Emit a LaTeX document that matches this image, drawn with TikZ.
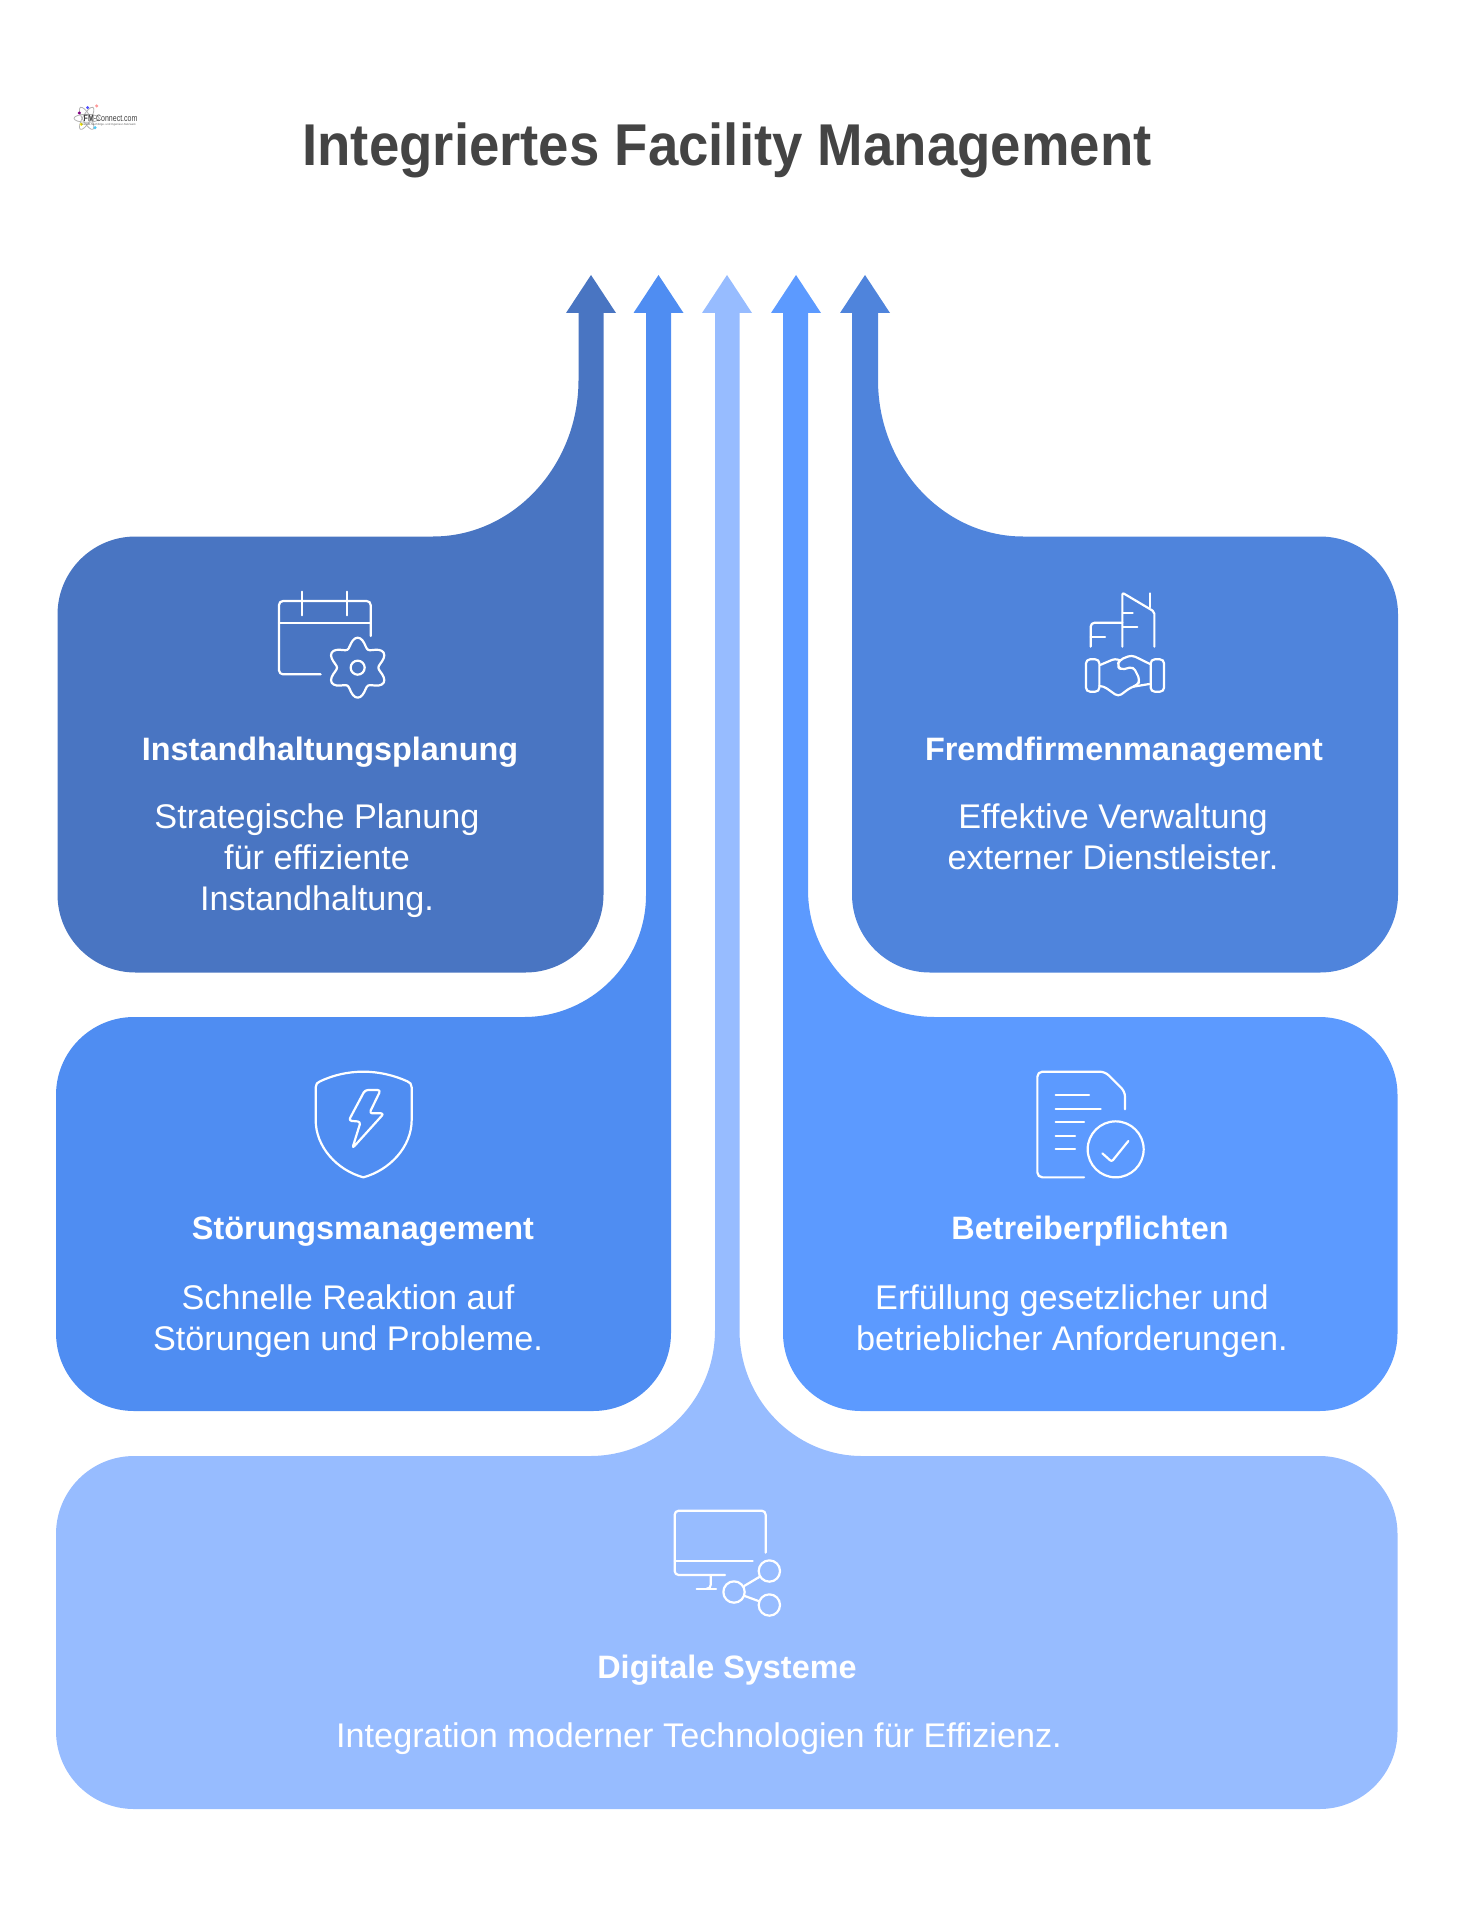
\documentclass[tikz,border=0pt]{standalone}
\usepackage{fontspec}
\setmainfont{Liberation Sans}
\usepackage{tikz}
\usetikzlibrary{calc}
\definecolor{planblue}{HTML}{4975C2}
\definecolor{stoerblue}{HTML}{4F8DF2}
\definecolor{digitalblue}{HTML}{97BCFF}
\definecolor{pflichtblue}{HTML}{5C9AFF}
\definecolor{fremdblue}{HTML}{4F84DC}
\definecolor{titlegray}{HTML}{444444}

\begin{document}
\begin{tikzpicture}[
		x=0.5pt, y=-0.5pt,
		card/.style={draw=none},
		headline/.style={text=white, font=\fontsize{16.2}{20}\selectfont\bfseries, inner sep=0pt},
		copyline/.style={text=white, font=\fontsize{17.1}{20.5}\selectfont, align=center, inner sep=0pt},
		icon/.style={draw=white, line width=1.1pt, line cap=round, line join=round},
		zoomed/.style={x=0.16667pt, y=-0.16667pt},
		]
		\useasboundingbox (0,0) rectangle (1456,1920);
		
		\node[text=titlegray, font=\fontsize{29.5}{34}\selectfont\bfseries\addfontfeature{FakeStretch=0.925}, inner sep=0pt] (title) at (727,150) {Integriertes Facility Management};
		
		% logo
		\begin{scope}[shift={(50,80)}, zoomed]
			\foreach \ang in {0,60,120}
				\draw[black!30, line width=0.4pt, rotate around={\ang:(110,115)}] (110,115) ellipse (38 and 12);
			\foreach \dx/\dy/\dcol in {88/99/violet,113/83/blue!70,140/78/red!40,94/133/yellow,135/143/cyan!70}
				\fill[\dcol] (\dx,\dy) circle (5);
			\node[inner sep=0pt, anchor=west, text=black!75, font=\fontsize{4.6}{5}\selectfont\addfontfeature{FakeStretch=0.76}] (logoname) at (100,115) {\textbf{FM}-Connect.com};
			\node[inner sep=0pt, anchor=west, text=black!60, font=\fontsize{1.42}{2}\selectfont] (logosub) at (92,133) {Die FM-Nachfolge- und Ingenieur-Netzwerk};
		\end{scope}
		
		% digitale systeme
		\fill[digitalblue, card] (727,275) -- (752,313) -- (739.5,313) -- (739.5,1330)
			.. controls (739.5,1400) and (795,1456) .. (862,1456) -- (1319.5,1456)
			arc[start angle=270, end angle=360, radius=78] -- (1397.5,1731)
			arc[start angle=0, end angle=90, radius=78] -- (134,1809)
			arc[start angle=90, end angle=180, radius=78] -- (56,1534)
			arc[start angle=180, end angle=270, radius=78] -- (590,1456)
			.. controls (659,1456) and (715,1400) .. (715,1330) -- (715,313) -- (702,313) -- cycle;
		
		% stoerungsmanagement
		\fill[stoerblue, card] (658.5,275) -- (683.5,313) -- (671,313) -- (671,1333)
			arc[start angle=0, end angle=90, radius=78] -- (134,1411)
			arc[start angle=90, end angle=180, radius=78] -- (56,1095)
			arc[start angle=180, end angle=270, radius=78] -- (524,1017)
			.. controls (591,1017) and (646,962) .. (646,895) -- (646,313) -- (633.5,313) -- cycle;
		
		% betreiberpflichten
		\fill[pflichtblue, card] (796,275) -- (821,313) -- (808,313) -- (808,890)
			.. controls (808,960) and (865,1017) .. (935,1017) -- (1319.5,1017)
			arc[start angle=270, end angle=360, radius=78] -- (1397.5,1333)
			arc[start angle=0, end angle=90, radius=78] -- (861,1411)
			arc[start angle=90, end angle=180, radius=78] -- (783,313) -- (771,313) -- cycle;
		
		% instandhaltungsplanung
		\fill[planblue, card] (591,275) -- (616,313) -- (603.5,313) -- (603.5,894.5)
			arc[start angle=0, end angle=90, radius=78] -- (135.5,972.5)
			arc[start angle=90, end angle=180, radius=78] -- (57.5,614.5)
			arc[start angle=180, end angle=270, radius=78] -- (433,536.5)
			.. controls (513,536.5) and (578.5,466) .. (578.5,380) -- (578.5,313) -- (566,313) -- cycle;
		
		% fremdfirmenmanagement
		\fill[fremdblue, card] (865,275) -- (890,313) -- (878,313) -- (878,380)
			.. controls (878,466) and (943,536.5) .. (1023,536.5) -- (1320,536.5)
			arc[start angle=270, end angle=360, radius=78] -- (1398,894.5)
			arc[start angle=0, end angle=90, radius=78] -- (930,972.5)
			arc[start angle=90, end angle=180, radius=78] -- (852,313) -- (840,313) -- cycle;
		
		% texts
		\node[headline] (h1) at (330,752.5) {Instandhaltungsplanung};
		\node[copyline] (t1) at (317,861) {Strategische Planung\\für effiziente\\Instandhaltung.};
		\node[headline] (h2) at (363,1231.5) {Störungsmanagement};
		\node[copyline] (t2) at (348,1321) {Schnelle Reaktion auf\\Störungen und Probleme.};
		\node[headline] (h3) at (727,1670) {Digitale Systeme};
		\node[copyline] (t3) at (699,1739) {Integration moderner Technologien für Effizienz.};
		\node[headline] (h4) at (1090,1231.5) {Betreiberpflichten};
		\node[copyline] (t4) at (1072,1321) {Erfüllung gesetzlicher und\\betrieblicher Anforderungen.};
		\node[headline] (h5) at (1124,752.5) {Fremdfirmenmanagement};
		\node[copyline] (t5) at (1113,837) {Effektive Verwaltung\\externer Dienstleister.};
		
		% calendar and gear
		\begin{scope}[shift={(250,570)}, zoomed]
			\draw[icon, rounded corners=2pt] (212,313) -- (87,313) -- (87,93) -- (362,93) -- (362,198);
			\draw[icon] (87,160) -- (362,160);
			\foreach \tx in {155,292}
				\draw[icon] (\tx,65) -- (\tx,136);
			\draw[icon] plot[smooth cycle, domain=0:355, samples=72] ({323+(76-14*cos(6*\x))*cos(\x)},{293+(76-14*cos(6*\x))*sin(\x)});
			\draw[icon] (323,293) circle (21);
		\end{scope}
		
		% shield
		\begin{scope}[shift={(290,1050)}, zoomed]
			\draw[icon] (77,210) -- (77,112) .. controls (77,102) and (82,97) .. (90,94)
				.. controls (130,75) and (175,65) .. (220,65) .. controls (265,65) and (310,75) .. (352,94)
				.. controls (360,97) and (365,102) .. (365,112) -- (365,210)
				.. controls (365,290) and (300,360) .. (220,382) .. controls (140,360) and (77,290) .. (77,210) -- cycle;
			\draw[icon, rounded corners=1.5pt] (225,120) -- (272,120) -- (238,190) -- (282,190) -- (187,295) -- (212,215) -- (176,212) -- cycle;
		\end{scope}
		
		% buildings and handshake
		\begin{scope}[shift={(1060,570)}, zoomed]
			\draw[icon, rounded corners=1pt] (187,230) -- (187,68) -- (283,125) -- (283,230);
			\draw[icon] (270,70) -- (270,112);
			\draw[icon] (190,130) -- (218,130);
			\draw[icon] (190,172) -- (232,172);
			\draw[icon, rounded corners=2pt] (187,158) -- (92,158) -- (92,230);
			\draw[icon] (92,200) -- (135,200);
			\draw[icon, rounded corners=2pt] (78,268) rectangle (118,365);
			\draw[icon, rounded corners=2pt] (272,268) rectangle (312,365);
			\draw[icon, rounded corners=1.5pt] (120,285) -- (165,266) -- (180,271);
			\draw[icon, rounded corners=2pt] (270,282) -- (215,255) -- (178,270) -- (172,287) -- (182,300) -- (220,290) -- (240,330) -- (232,346) -- (212,352) -- (175,380) -- (130,348) -- (120,348);
			\draw[icon] (220,350) -- (268,342);
		\end{scope}
		
		% document and check
		\begin{scope}[shift={(1020,1050)}, zoomed]
			\draw[icon, rounded corners=2.5pt] (192,382) -- (52,382) -- (52,65) -- (255,65) -- (315,125) -- (315,178);
			\foreach \ly/\lx in {134/207,176/242,217/192,258/165,298/165}
				\draw[icon] (107,\ly) -- (\lx,\ly);
			\draw[icon] (287,298) circle (84);
			\draw[icon, rounded corners=1pt] (247,310) -- (275,335) -- (325,273);
		\end{scope}
		
		% monitor and share
		\begin{scope}[shift={(660,1490)}, zoomed]
			\draw[icon, rounded corners=2pt] (195,255) -- (44,255) -- (44,62) -- (317,62) -- (317,188);
			\draw[icon] (44,213) -- (278,213);
			\draw[icon] (152,258) -- (152,285) .. controls (152,292) and (148,296) .. (140,296);
			\draw[icon] (110,296) -- (168,296);
			\node[icon, circle, inner sep=0pt, minimum size=10.67pt] (n1) at (328,243) {};
			\node[icon, circle, inner sep=0pt, minimum size=10.67pt] (n2) at (222,306) {};
			\node[icon, circle, inner sep=0pt, minimum size=10.67pt] (n3) at (328,345) {};
			\draw[icon] (n2) -- (n1);
			\draw[icon] (n2) -- (n3);
		\end{scope}
\end{tikzpicture}
\end{document}
